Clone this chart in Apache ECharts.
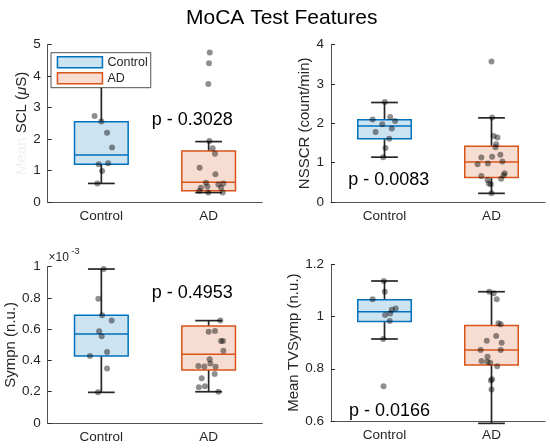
<!DOCTYPE html>
<html>
<head>
<meta charset="utf-8">
<script src="https://cdn.jsdelivr.net/npm/echarts@6/dist/echarts.min.js"></script>
<style>html,body{margin:0;padding:0;background:#fff;}#c{width:550px;height:448px;}</style>
</head>
<body>
<div id="c"></div>
<script>
// ---------- data ----------
const categories = ['Control', 'AD'];

// box stats: [min(whisker), q1, median, q3, max(whisker)]
const sclBoxControl = [0.59, 1.20, 1.49, 2.55, 4.0];
const sclBoxAD = [0.30, 0.36, 0.63, 1.62, 1.92];
const sclControl = [4.0, 2.73, 2.56, 2.20, 1.73, 1.20, 1.23, 0.985, 0.59];
const sclControlJit = [0, -0.063, 0, 0.053, 0.10, -0.025, 0.063, 0.007, -0.037];
const sclAD = [4.75, 4.41, 3.75, 1.94, 1.71, 1.53, 1.09, 0.88, 0.61, 0.59, 0.56, 0.45, 0.49, 0.45, 0.35, 0.30, 0.30];
const sclADJit = [0.01, 0.003, -0.003, 0.007, 0.037, 0.059, -0.084, 0.063, -0.025, 0.137, 0.09, -0.072, -0.012, 0.115, -0.087, -0.003, 0.131];

const nsscrBoxControl = [1.14, 1.61, 1.93, 2.09, 2.53];
const nsscrBoxAD = [0.22, 0.62, 1.02, 1.42, 2.14];
const nsscrControl = [2.54, 2.10, 2.16, 2.06, 1.98, 1.78, 1.87, 1.61, 1.37, 1.14];
const nsscrControlJit = [0.003, -0.111, 0.053, 0.099, -0.021, -0.083, 0.068, 0.044, 0.009, -0.012];
const nsscrAD = [3.57, 2.15, 1.68, 1.64, 1.47, 1.39, 1.13, 1.15, 1.20, 1.03, 0.96, 0.98, 0.73, 0.68, 0.66, 0.59, 0.56, 0.47, 0.45, 0.22];
const nsscrADJit = [0, 0.006, 0.021, 0.056, 0.044, 0.037, -0.095, 0.006, 0.083, 0.102, -0.13, -0.034, 0.123, 0.114, -0.095, 0.09, -0.037, -0.025, -0.006, 0];

const sympBoxControl = [0.196, 0.428, 0.569, 0.689, 0.985];
const sympBoxAD = [0.20, 0.339, 0.44, 0.62, 0.655];
const sympControl = [0.985, 0.795, 0.69, 0.655, 0.587, 0.555, 0.454, 0.428, 0.348, 0.196];
const sympControlJit = [0.021, -0.028, 0.007, 0.096, -0.021, 0.003, 0.053, -0.106, 0.053, -0.031];
const sympAD = [0.655, 0.584, 0.588, 0.524, 0.524, 0.463, 0.408, 0.365, 0.362, 0.38, 0.36, 0.313, 0.286, 0.228, 0.235, 0.20];
const sympADJit = [0.109, 0, 0.059, 0.115, 0.134, 0.137, 0.009, -0.096, -0.04, 0.016, 0.065, 0.056, -0.065, -0.091, -0.035, 0.091];

const tvBoxControl = [0.914, 0.981, 1.018, 1.064, 1.136];
const tvBoxAD = [0.591, 0.814, 0.872, 0.966, 1.095];
const tvControl = [1.136, 1.095, 1.066, 1.031, 1.026, 1.012, 1.006, 0.983, 0.914, 0.733];
const tvControlJit = [-0.006, 0.003, -0.111, 0.105, 0.068, 0.053, 0.006, 0.049, -0.012, -0.009];
const tvAD = [1.095, 1.089, 1.066, 0.974, 0.970, 0.925, 0.907, 0.90, 0.872, 0.872, 0.846, 0.83, 0.823, 0.827, 0.81, 0.76, 0.755, 0.721, 0.591];
const tvADJit = [-0.021, 0.021, 0.049, 0.065, 0.086, 0.044, -0.044, 0.095, -0.102, 0.086, -0.037, -0.093, -0.012, -0.04, 0.053, 0.006, -0.006, 0, 0];

const pTexts = ['p - 0.3028', 'p - 0.0083', 'p - 0.4953', 'p - 0.0166'];
// ---------- end data ----------

const FONT = "'Liberation Sans', Arial, Helvetica, sans-serif";
const AX = '#262626';
const BLUE = '#0072BD', BLUE_F = 'rgba(0,114,189,0.2)';
const ORANGE = '#D95319', ORANGE_F = 'rgba(217,83,25,0.2)';

const panels = [
  {grid: {left: 47.7, top: 44.7, width: 214.6, height: 157.3}, y: {min: 0, max: 5, interval: 1},
   name: '{m|Mean} SCL ({i|μ}S)', nameGap: 14,
   boxes: [sclBoxControl, sclBoxAD], vals: [sclControl, sclAD], jit: [sclControlJit, sclADJit]},
  {grid: {left: 331, top: 44.7, width: 214, height: 157.3}, y: {min: 0, max: 4, interval: 1},
   name: 'NSSCR (count/min)', nameGap: 17,
   boxes: [nsscrBoxControl, nsscrBoxAD], vals: [nsscrControl, nsscrAD], jit: [nsscrControlJit, nsscrADJit]},
  {grid: {left: 47.7, top: 266.7, width: 214.6, height: 156.3}, y: {min: 0, max: 1, interval: 0.2},
   name: 'Sympn (n.u.)', nameGap: 28.5,
   boxes: [sympBoxControl, sympBoxAD], vals: [sympControl, sympAD], jit: [sympControlJit, sympADJit]},
  {grid: {left: 331, top: 264.3, width: 214, height: 156.7}, y: {min: 0.6, max: 1.2, interval: 0.2},
   name: 'Mean TVSymp (n.u.)', nameGap: 27.5,
   boxes: [tvBoxControl, tvBoxAD], vals: [tvControl, tvAD], jit: [tvControlJit, tvADJit]}
];

function makeRender(color) {
  return function (params, api) {
    const c = api.value(0);
    const pMin = api.coord([c, api.value(1)]);
    const pQ1 = api.coord([c, api.value(2)]);
    const pMed = api.coord([c, api.value(3)]);
    const pQ3 = api.coord([c, api.value(4)]);
    const pMax = api.coord([c, api.value(5)]);
    const band = api.size([1, 0])[0];
    const hw = band * 0.25, cap = band * 0.125;
    const cx = pMed[0];
    const ws = {stroke: AX, lineWidth: 1.7};
    return {type: 'group', children: [
      {type: 'line', shape: {x1: cx, y1: pMax[1], x2: cx, y2: pQ3[1]}, style: ws},
      {type: 'line', shape: {x1: cx, y1: pQ1[1], x2: cx, y2: pMin[1]}, style: ws},
      {type: 'line', shape: {x1: cx - cap, y1: pMax[1], x2: cx + cap, y2: pMax[1]}, style: ws},
      {type: 'line', shape: {x1: cx - cap, y1: pMin[1], x2: cx + cap, y2: pMin[1]}, style: ws},
      {type: 'rect', shape: {x: cx - hw, y: pQ3[1], width: 2 * hw, height: pQ1[1] - pQ3[1]},
       style: {fill: color === BLUE ? BLUE_F : ORANGE_F, stroke: color, lineWidth: 1.5}},
      {type: 'line', shape: {x1: cx - hw, y1: pMed[1], x2: cx + hw, y2: pMed[1]}, style: {stroke: color, lineWidth: 1.5}}
    ]};
  };
}

const grid = [], xAxis = [], yAxis = [], series = [];
panels.forEach((p, i) => {
  grid.push(p.grid);
  xAxis.push({type: 'category', gridIndex: i, data: categories, boundaryGap: true,
    axisLine: {lineStyle: {color: AX, width: 0.8}},
    axisTick: {inside: true, alignWithLabel: true, length: 4, lineStyle: {color: AX}},
    axisLabel: {color: AX, fontSize: 13.5, fontFamily: FONT, margin: 7},
    splitLine: {show: false}});
  xAxis.push({type: 'value', gridIndex: i, min: 0.5, max: 2.5, show: false});
  yAxis.push({type: 'value', gridIndex: i, min: p.y.min, max: p.y.max, interval: p.y.interval,
    name: p.name, nameLocation: 'middle', nameGap: p.nameGap,
    nameTextStyle: {color: AX, fontSize: 15, fontFamily: FONT,
      rich: {m: {color: '#f0f0f0', fontSize: 15, fontFamily: FONT}, i: {fontStyle: 'italic', fontSize: 15, color: AX, fontFamily: FONT}}},
    axisLine: {show: true, lineStyle: {color: AX, width: 0.8}},
    axisTick: {show: true, inside: true, length: 4, lineStyle: {color: AX}},
    axisLabel: {color: AX, fontSize: 13.5, fontFamily: FONT, margin: 7},
    splitLine: {show: false}});
  [0, 1].forEach(g => {
    const color = g === 0 ? BLUE : ORANGE;
    series.push({type: 'custom', name: categories[g], xAxisIndex: 2 * i, yAxisIndex: i,
      itemStyle: {color: g === 0 ? BLUE_F : ORANGE_F, borderColor: color},
      renderItem: makeRender(color), encode: {x: 0, y: [1, 2, 3, 4, 5]},
      data: [[g].concat(p.boxes[g])], z: 2, silent: true});
  });
  [0, 1].forEach(g => {
    series.push({type: 'scatter', xAxisIndex: 2 * i + 1, yAxisIndex: i, symbolSize: 6,
      itemStyle: {color: 'rgba(0,0,0,0.55)', borderWidth: 0},
      data: p.vals[g].map((v, k) => [g + 1 + p.jit[g][k], v]), z: 5, silent: true});
  });
});

const pPos = [[151.7, 120.7], [348.3, 180.7], [151.7, 294], [349, 411.7]];
const graphic = pTexts.map((t, i) => ({type: 'text', left: pPos[i][0], top: pPos[i][1] - 10, z: 10,
  style: {text: t, fontSize: 18, fontFamily: FONT, fill: '#000'}}));
graphic.push({type: 'text', left: 48.5, top: 252, z: 10, style: {text: '×10', fontSize: 12, fontFamily: FONT, fill: AX}});
graphic.push({type: 'text', left: 71.5, top: 247, z: 10, style: {text: '-3', fontSize: 9, fontFamily: FONT, fill: AX}});

const option = {
  animation: false,
  backgroundColor: '#fff',
  title: {text: 'MoCA Test Features', left: 181, top: 3,
    textStyle: {fontSize: 21, fontWeight: 'normal', color: '#000', fontFamily: FONT}},
  legend: {left: 51, top: 52.7, orient: 'vertical', itemWidth: 45, itemHeight: 11, itemGap: 3,
    padding: [3, 3, 3, 5.7], backgroundColor: '#fff', borderColor: AX, borderWidth: 0.8, borderRadius: 0,
    selectedMode: false, z: 8,
    textStyle: {fontSize: 12.5, color: AX, fontFamily: FONT, lineHeight: 13},
    data: [
      {name: 'Control', icon: 'rect', itemStyle: {color: BLUE_F, borderColor: BLUE, borderWidth: 1.5}},
      {name: 'AD', icon: 'rect', itemStyle: {color: ORANGE_F, borderColor: ORANGE, borderWidth: 1.5}}
    ]},
  grid, xAxis, yAxis, series, graphic
};

const chart = echarts.init(document.getElementById('c'), null, {renderer: 'canvas'});
chart.setOption(option);
</script>
</body>
</html>
